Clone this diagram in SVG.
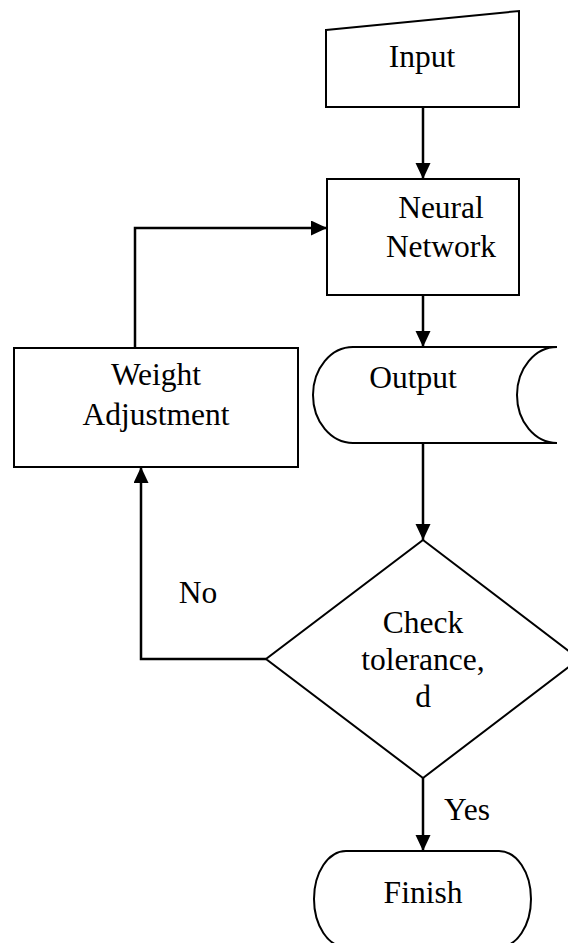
<svg xmlns="http://www.w3.org/2000/svg" width="568" height="943" viewBox="0 0 568 943">
<style>
.shape{fill:#fff;stroke:#000;stroke-width:2}
.conn{fill:none;stroke:#000;stroke-width:2.5}
text{font-family:"Liberation Serif","Times New Roman",serif;font-size:31.5px;fill:#000;text-anchor:middle}
</style>
<defs>
<marker id="ah" markerUnits="userSpaceOnUse" markerWidth="16" markerHeight="16" refX="16" refY="7.5" orient="auto">
<path d="M0,0 L16,7.5 L0,15 z" fill="#000"/>
</marker>
</defs>
<rect width="568" height="943" fill="#fff"/>
<g id="connectors">
<path class="conn" d="M423,107 L423,179" marker-end="url(#ah)"/>
<path class="conn" d="M423,295 L423,347" marker-end="url(#ah)"/>
<path class="conn" d="M423,443 L423,540" marker-end="url(#ah)"/>
<path class="conn" d="M423,778 L423,851" marker-end="url(#ah)"/>
<path class="conn" d="M135,348 L135,228 L327,228" marker-end="url(#ah)"/>
<path class="conn" d="M266,659 L141,659 L141,467" marker-end="url(#ah)"/>
<text x="198" y="603">No</text>
<text x="467" y="820">Yes</text>
</g>
<g id="input">
<polygon class="shape" points="326,30 519,11 519,107 326,107"/>
<text x="422" y="67">Input</text>
</g>
<g id="neural-network">
<rect class="shape" x="327" y="179" width="192" height="116"/>
<text x="441" y="218">Neural</text>
<text x="441" y="257">Network</text>
</g>
<g id="output">
<path class="shape" d="M353,347 L557,347 A40 48 0 0 0 557 443 L353,443 A40 48 0 0 1 353 347 Z"/>
<text x="413" y="388">Output</text>
</g>
<g id="weight-adjustment">
<rect class="shape" x="14" y="348" width="284" height="119"/>
<text x="156" y="385">Weight</text>
<text x="156" y="425">Adjustment</text>
</g>
<g id="check-tolerance">
<polygon class="shape" points="423,540 579,659 423,778 266,659"/>
<text x="423" y="633">Check</text>
<text x="423" y="670">tolerance,</text>
<text x="423" y="707">d</text>
</g>
<g id="finish">
<rect class="shape" x="314" y="851" width="217" height="96" rx="32" ry="48"/>
<text x="423" y="903">Finish</text>
</g>
</svg>
